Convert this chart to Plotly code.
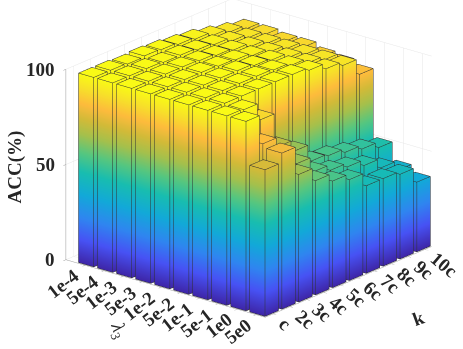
"""
3D bar chart of ACC(%) against lambda_3 and k, styled like MATLAB bar3.
"""
import math
import plotly.graph_objects as go

lambda_labels = ["1e-4", "5e-4", "1e-3", "5e-3", "1e-2", "5e-2", "1e-1", "5e-1", "1e0", "5e0"]
k_labels = ["c", "2c", "3c", "4c", "5c", "6c", "7c", "8c", "9c", "10c"]
z_ticks = [0, 50, 100]

# ACC per lambda_3, one value per k
acc_1e4 = [99.5, 99.5, 99.0, 99.5, 99.0, 98.0, 97.0, 95.0, 93.0, 91.0]
acc_5e4 = [99.5, 99.5, 99.5, 99.0, 99.0, 98.0, 97.0, 95.0, 93.0, 91.0]
acc_1e3 = [99.5, 99.5, 99.5, 99.5, 99.0, 98.0, 97.0, 95.0, 93.0, 90.0]
acc_5e3 = [99.5, 99.5, 99.5, 99.5, 99.0, 98.5, 97.0, 95.0, 93.0, 90.0]
acc_1e2 = [99.5, 99.5, 99.5, 99.5, 99.5, 98.5, 97.5, 95.0, 93.0, 88.0]
acc_5e2 = [99.5, 99.5, 99.5, 99.5, 99.5, 99.0, 97.5, 95.0, 93.0, 87.0]
acc_1e1 = [99.5, 99.5, 99.5, 99.5, 99.5, 99.5, 98.0, 95.0, 93.0, 84.6]
acc_5e1 = [99.5, 99.0, 90.0, 72.0, 66.0, 57.0, 56.0, 54.0, 52.0, 49.0]
acc_1e0 = [99.5, 84.0, 72.0, 66.0, 58.0, 55.0, 53.0, 50.0, 45.0, 40.0]
acc_5e0 = [77.0, 82.0, 67.0, 60.0, 56.0, 53.0, 46.0, 46.0, 44.5, 36.6]
acc = [acc_1e4, acc_5e4, acc_1e3, acc_5e3, acc_1e2, acc_5e2, acc_1e1, acc_5e1, acc_1e0, acc_5e0]

parula = [
    [0.00, "#3e26a8"], [0.12, "#4752f4"], [0.24, "#2f86f0"], [0.36, "#12a9d8"],
    [0.48, "#18bdb0"], [0.58, "#55c680"], [0.68, "#a5c04c"], [0.76, "#d2ba38"],
    [0.84, "#fdbb3c"], [0.92, "#f7e02a"], [1.00, "#f9fb15"],
]

BAR = 0.4  # half bar width
ASPECT = dict(x=1.48, y=1.5, z=1.165)
X_RANGE, Y_RANGE, Z_RANGE = [0, 10.47], [0.53, 10.4], [0, 100]
XSPAN, YSPAN, ZSPAN = 10.47, 9.87, 100

# view solved from the floor corners of the picture
el, th = math.radians(20.5), math.radians(39.5)
view = (math.sin(th) * math.cos(el), -math.cos(th) * math.cos(el), math.sin(el))

# edge lines are pulled slightly toward the camera so the faces do not hide them
LIFT = 0.012
lift_x = LIFT * view[0] * XSPAN / ASPECT["x"]
lift_y = LIFT * view[1] * YSPAN / ASPECT["y"]
lift_z = LIFT * view[2] * ZSPAN / ASPECT["z"]

xs, ys, zs, ii, jj, kk = [], [], [], [], [], []
ex, ey, ez = [], [], []
for i, row in enumerate(acc):
    for j, h in enumerate(row):
        x0, x1 = i + 1 - BAR, i + 1 + BAR
        y0, y1 = j + 1 - BAR, j + 1 + BAR
        n = len(xs)
        xs += [x0, x1, x1, x0, x0, x1, x1, x0]
        ys += [y0, y0, y1, y1, y0, y0, y1, y1]
        zs += [0, 0, 0, 0, h, h, h, h]
        quads = [(0, 1, 5, 4), (1, 2, 6, 5), (2, 3, 7, 6), (3, 0, 4, 7), (4, 5, 6, 7)]
        for a, b, c, d in quads:
            ii += [n + a, n + a]
            jj += [n + b, n + c]
            kk += [n + c, n + d]
        for a, b in [(0, 1), (1, 2), (2, 3), (3, 0), (4, 5), (5, 6), (6, 7), (7, 4),
                     (0, 4), (1, 5), (2, 6), (3, 7)]:
            ex += [xs[n + a] + lift_x, xs[n + b] + lift_x, None]
            ey += [ys[n + a] + lift_y, ys[n + b] + lift_y, None]
            ez += [zs[n + a] + lift_z, zs[n + b] + lift_z, None]

fig = go.Figure()
fig.add_trace(go.Mesh3d(
    x=xs, y=ys, z=zs, i=ii, j=jj, k=kk,
    intensity=zs, colorscale=parula, cmin=0, cmax=100, showscale=False,
    flatshading=False,
    lighting=dict(ambient=1, diffuse=0, specular=0, roughness=1, fresnel=0),
    hoverinfo="skip",
))
fig.add_trace(go.Scatter3d(
    x=ex, y=ey, z=ez, mode="lines",
    line=dict(color="#303030", width=1),
    showlegend=False, hoverinfo="skip",
))

TICK_FONT = dict(family="Liberation Serif", size=19, color="#262626")
annotations = []
for i, lab in enumerate(lambda_labels):
    annotations.append(dict(x=i + 1, y=Y_RANGE[0], z=0, text=f"<b>{lab}</b>", showarrow=False,
                            textangle=-38, xanchor="right", yanchor="top",
                            xshift=1, yshift=3, font=TICK_FONT))
for j, lab in enumerate(k_labels):
    annotations.append(dict(x=X_RANGE[1], y=j + 1, z=0, text=f"<b>{lab}</b>", showarrow=False,
                            textangle=40, xanchor="left", yanchor="top",
                            xshift=-1, yshift=4, font=TICK_FONT))
for t in z_ticks:
    annotations.append(dict(x=0, y=Y_RANGE[0], z=t, text=f"<b>{t}</b>", showarrow=False,
                            xanchor="right", yanchor="middle", xshift=-9,
                            font=TICK_FONT))
annotations.append(dict(x=5.2, y=Y_RANGE[0], z=0, text="<i>λ</i><sub>3</sub>", showarrow=False,
                        textangle=70, xshift=-47, yshift=-42,
                        font=dict(family="Liberation Serif", size=19, color="#262626")))
annotations.append(dict(x=X_RANGE[1], y=5.5, z=0, text="<b>k</b>", showarrow=False,
                        textangle=-20, xshift=69, yshift=-37,
                        font=dict(family="Liberation Serif", size=19, color="#262626")))
annotations.append(dict(x=0, y=Y_RANGE[0], z=50, text="<b>ACC(%)</b>", showarrow=False,
                        textangle=-90, xshift=-51, yshift=-2,
                        font=dict(family="Liberation Serif", size=19, color="#262626")))

axis_style = dict(
    showbackground=True, backgroundcolor="white", showgrid=True, gridcolor="#e6e6e6",
    gridwidth=1, showline=True, linecolor="#9a9a9a", linewidth=1, zeroline=False,
    showticklabels=False, ticks="outside", ticklen=4, tickcolor="#9a9a9a",
    showspikes=False, title=dict(text=""),
)

R = 2.0
shift_r, shift_u = 0.099, 0.095
right = (math.cos(th), math.sin(th), 0)
up = (-math.sin(th) * math.sin(el), math.cos(th) * math.sin(el), math.cos(el))
center = dict(x=-shift_r * right[0] - shift_u * up[0],
              y=-shift_r * right[1] - shift_u * up[1],
              z=-shift_r * right[2] - shift_u * up[2])
eye = dict(x=center["x"] + R * view[0], y=center["y"] + R * view[1], z=center["z"] + R * view[2])

fig.update_layout(
    width=463, height=349, margin=dict(l=0, r=0, t=0, b=0),
    paper_bgcolor="white", showlegend=False,
    scene=dict(
        domain=dict(x=[0, 1], y=[0, 1]),
        xaxis=dict(axis_style, range=X_RANGE, tickvals=list(range(1, 11))),
        yaxis=dict(axis_style, range=Y_RANGE, tickvals=list(range(1, 11))),
        zaxis=dict(axis_style, range=Z_RANGE, tickvals=z_ticks),
        aspectmode="manual", aspectratio=ASPECT,
        camera=dict(eye=eye, up=dict(x=0, y=0, z=1), center=center,
                    projection=dict(type="orthographic")),
        annotations=annotations,
    ),
)

fig.write_html("out.html", config=dict(displayModeBar=False),
               post_script="document.body.style.margin='0';")
